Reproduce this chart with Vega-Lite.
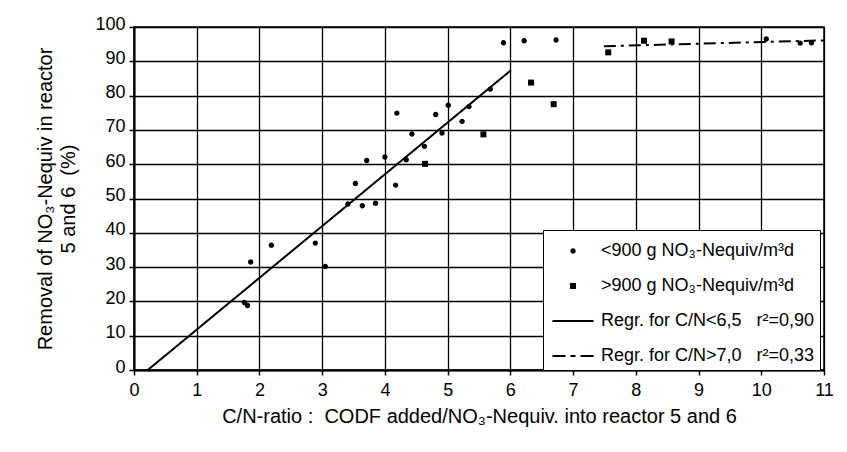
{
  "$schema": "https://vega.github.io/schema/vega-lite/v6.json",
  "width": 690,
  "height": 343,
  "autosize": "none",
  "padding": {"left": 134, "top": 27, "right": 23, "bottom": 82},
  "background": "white",
  "config": {
    "font": "Liberation Sans",
    "view": {"stroke": "black", "strokeWidth": 1.5},
    "axis": {
      "gridColor": "black", "gridWidth": 1.3, "gridOpacity": 1,
      "domainColor": "black", "domainWidth": 2,
      "tickColor": "black", "tickWidth": 1.5, "tickSize": 5,
      "labelColor": "black", "labelFontSize": 18, "labelFont": "Liberation Sans",
      "labelOverlap": false, "labelFlush": false,
      "titleColor": "black", "titleFontSize": 20, "titleFontWeight": "normal", "titleFont": "Liberation Sans"
    }
  },
  "datasets": {
    "pts": [
      {"x": 1.76, "y": 19.7, "series": "<900 g NO₃-Nequiv/m³d"},
      {"x": 1.81, "y": 18.8, "series": "<900 g NO₃-Nequiv/m³d"},
      {"x": 1.86, "y": 31.5, "series": "<900 g NO₃-Nequiv/m³d"},
      {"x": 2.19, "y": 36.4, "series": "<900 g NO₃-Nequiv/m³d"},
      {"x": 2.89, "y": 37.0, "series": "<900 g NO₃-Nequiv/m³d"},
      {"x": 3.05, "y": 30.2, "series": "<900 g NO₃-Nequiv/m³d"},
      {"x": 3.41, "y": 48.4, "series": "<900 g NO₃-Nequiv/m³d"},
      {"x": 3.53, "y": 54.4, "series": "<900 g NO₃-Nequiv/m³d"},
      {"x": 3.64, "y": 47.9, "series": "<900 g NO₃-Nequiv/m³d"},
      {"x": 3.71, "y": 61.1, "series": "<900 g NO₃-Nequiv/m³d"},
      {"x": 3.85, "y": 48.6, "series": "<900 g NO₃-Nequiv/m³d"},
      {"x": 4.00, "y": 62.1, "series": "<900 g NO₃-Nequiv/m³d"},
      {"x": 4.17, "y": 53.9, "series": "<900 g NO₃-Nequiv/m³d"},
      {"x": 4.19, "y": 74.9, "series": "<900 g NO₃-Nequiv/m³d"},
      {"x": 4.34, "y": 61.3, "series": "<900 g NO₃-Nequiv/m³d"},
      {"x": 4.43, "y": 68.8, "series": "<900 g NO₃-Nequiv/m³d"},
      {"x": 4.63, "y": 65.2, "series": "<900 g NO₃-Nequiv/m³d"},
      {"x": 4.81, "y": 74.5, "series": "<900 g NO₃-Nequiv/m³d"},
      {"x": 4.91, "y": 69.1, "series": "<900 g NO₃-Nequiv/m³d"},
      {"x": 5.01, "y": 77.2, "series": "<900 g NO₃-Nequiv/m³d"},
      {"x": 5.23, "y": 72.5, "series": "<900 g NO₃-Nequiv/m³d"},
      {"x": 5.34, "y": 76.8, "series": "<900 g NO₃-Nequiv/m³d"},
      {"x": 5.68, "y": 81.9, "series": "<900 g NO₃-Nequiv/m³d"},
      {"x": 5.89, "y": 95.4, "series": "<900 g NO₃-Nequiv/m³d"},
      {"x": 6.22, "y": 96.0, "series": "<900 g NO₃-Nequiv/m³d"},
      {"x": 6.73, "y": 96.2, "series": "<900 g NO₃-Nequiv/m³d"},
      {"x": 10.08, "y": 96.5, "series": "<900 g NO₃-Nequiv/m³d"},
      {"x": 10.62, "y": 95.3, "series": "<900 g NO₃-Nequiv/m³d"},
      {"x": 10.80, "y": 95.4, "series": "<900 g NO₃-Nequiv/m³d"},
      {"x": 4.64, "y": 60.1, "series": ">900 g NO₃-Nequiv/m³d"},
      {"x": 5.57, "y": 68.7, "series": ">900 g NO₃-Nequiv/m³d"},
      {"x": 6.33, "y": 83.8, "series": ">900 g NO₃-Nequiv/m³d"},
      {"x": 6.69, "y": 77.5, "series": ">900 g NO₃-Nequiv/m³d"},
      {"x": 7.56, "y": 92.6, "series": ">900 g NO₃-Nequiv/m³d"},
      {"x": 8.13, "y": 96.0, "series": ">900 g NO₃-Nequiv/m³d"},
      {"x": 8.57, "y": 95.8, "series": ">900 g NO₃-Nequiv/m³d"}
    ],
    "lines": [
      {"x": 0.22, "y": 0, "line": "low"},
      {"x": 6.01, "y": 87.4, "line": "low"},
      {"x": 7.49, "y": 94.4, "line": "high"},
      {"x": 11.0, "y": 96.1, "line": "high"}
    ]
  },
  "encoding": {
    "x": {"field": "x", "type": "quantitative", "scale": {"domain": [0, 11], "nice": false},
      "axis": {"values": [0,1,2,3,4,5,6,7,8,9,10,11], "format": "d", "title": "C/N-ratio :\u00a0\u00a0CODF added/NO₃-Nequiv. into reactor 5 and 6", "titlePadding": 7, "labelPadding": 6}},
    "y": {"field": "y", "type": "quantitative", "scale": {"domain": [0, 100], "nice": false},
      "axis": {"values": [0,10,20,30,40,50,60,70,80,90,100], "format": "d", "title": ["Removal of NO₃-Nequiv in reactor", "5 and 6\u00a0\u00a0(%)"], "titlePadding": 16, "titleLineHeight": 23, "labelPadding": 4, "labelOffset": -3}}
  },
  "layer": [
    {
      "data": {"name": "lines"},
      "mark": {"type": "line", "color": "black", "strokeWidth": 2},
      "encoding": {
        "detail": {"field": "line"},
        "strokeDash": {"field": "line", "type": "nominal", "scale": {"domain": ["low", "high"], "range": [[1, 0], [12, 5, 3, 5]]}, "legend": null}
      }
    },
    {
      "data": {"name": "pts"},
      "mark": {"type": "point", "filled": true, "color": "black", "opacity": 1, "size": 900},
      "encoding": {
        "shape": {
          "field": "series", "type": "nominal",
          "scale": {
            "domain": ["<900 g NO₃-Nequiv/m³d", ">900 g NO₃-Nequiv/m³d", "Regr. for C/N<6,5\u00a0\u00a0 r²=0,90", "Regr. for C/N>7,0\u00a0\u00a0 r²=0,33"],
            "range": [
              "M-0.18,0A0.18,0.18,0,1,0,0.18,0A0.18,0.18,0,1,0,-0.18,0Z",
              "M-0.2,-0.2H0.2V0.2H-0.2Z",
              "M-1.37,-0.06H1.37V0.06H-1.37Z",
              "M-1.37,-0.06H-0.5V0.06H-1.37ZM-0.17,-0.06H0.17V0.06H-0.17ZM0.5,-0.06H1.37V0.06H0.5Z"
            ]
          },
          "legend": {
            "title": null,
            "orient": "none",
            "legendX": 409,
            "legendY": 203,
            "padding": 5,
            "strokeColor": "black",
            "fillColor": "white",
            "labelFontSize": 18,
            "labelFont": "Liberation Sans",
            "labelColor": "black",
            "labelLimit": 400,
            "rowPadding": 10,
            "labelOffset": 12,
            "symbolOffset": 9,
            "symbolSize": 900,
            "symbolFillColor": "black",
            "symbolOpacity": 1
          }
        }
      }
    }
  ]
}
